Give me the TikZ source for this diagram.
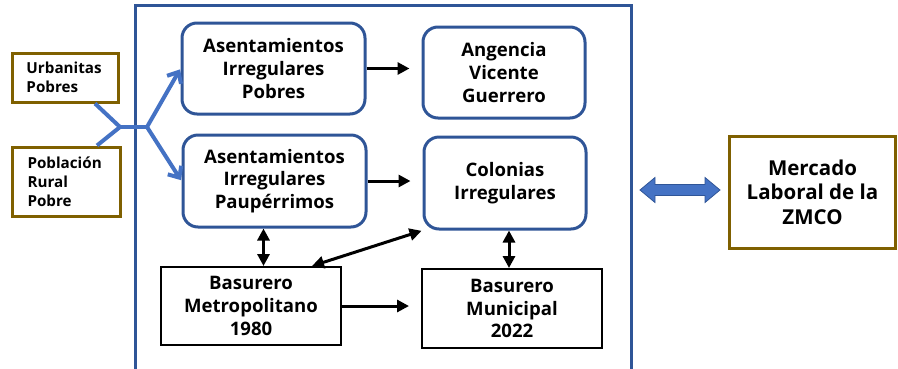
\documentclass[tikz,border=0pt]{standalone}
\usepackage{fontspec}
\setmainfont{Open Sans}
\usetikzlibrary{arrows.meta}
\definecolor{frameblue}{HTML}{2F5597}
\definecolor{arrowblue}{HTML}{4472C4}
\definecolor{brownbox}{HTML}{7F6000}
\tikzset{
  rbox/.style={draw=frameblue, line width=3pt, rounded corners=15pt, align=center,
    font=\bfseries\fontsize{18.6}{22.7}\selectfont, inner sep=0pt},
  sbox/.style={draw=black, line width=2pt, align=center,
    font=\bfseries\fontsize{18.6}{22.7}\selectfont, inner sep=0pt},
  bbox/.style={draw=brownbox, line width=3pt, align=left,
    font=\bfseries\fontsize{15.2}{18.8}\selectfont, inner sep=0pt},
  blk/.style={line width=3pt, -{Triangle[length=12pt,width=12pt]}},
  dblk/.style={line width=3pt, {Triangle[length=12pt,width=12pt]}-{Triangle[length=12pt,width=12pt]}},
  bluel/.style={arrowblue, line width=4pt},
}
\begin{document}
\begin{tikzpicture}[x=1pt,y=-1pt]
\useasboundingbox (0,0) rectangle (898,368);
\draw[frameblue, line width=3pt] (135,372) -- (135,5) -- (631,5) -- (631,372);

\node[rbox, minimum width=183pt, minimum height=91pt] (aip) at (273.5,68.5) {Asentamientos\\Irregulares\\Pobres};
\node[rbox, minimum width=162pt, minimum height=91pt] (avg) at (504,72.5) {Angencia\\Vicente\\Guerrero};
\node[rbox, minimum width=183pt, minimum height=92pt] (aipa) at (274.5,181) {Asentamientos\\Irregulares\\Paupérrimos};
\node[rbox, minimum width=162pt, minimum height=92pt] (col) at (505,183) {Colonias\\Irregulares};
\node[sbox, minimum width=180pt, minimum height=78pt] (bmet) at (251,306) {Basurero\\Metropolitano\\1980};
\node[sbox, minimum width=180pt, minimum height=79pt] (bmun) at (512,308.5) {Basurero\\Municipal\\2022};

\node[bbox, minimum width=106pt, minimum height=49pt, text width=77pt] (urb) at (65,77.5) {Urbanitas\\Pobres};
\node[bbox, minimum width=108pt, minimum height=69pt, text width=77pt] (pob) at (66,181.5) {Población\\Rural\\Pobre};
\node[draw=brownbox, line width=3pt, align=center, inner sep=0pt,
  font=\bfseries\fontsize{20.5}{24.5}\selectfont,
  minimum width=166pt, minimum height=112pt] (merc) at (812.5,192) {Mercado\\Laboral de la\\ZMCO};

% wide double arrow between the frame and the labour market
\filldraw[fill=arrowblue, draw=frameblue, line width=0.8pt]
  (640,190) -- (655,177.5) -- (655,184.5) -- (705,184.5) -- (705,177.5) -- (720,190)
  -- (705,202.5) -- (705,195.5) -- (655,195.5) -- (655,202.5) -- cycle;

% blue branching connector
\coordinate (j1) at (120,127);
\coordinate (j2) at (147,127);
\draw[bluel] ([xshift=30pt]urb.south) -- (j1);
\draw[bluel] ([xshift=31pt]pob.north) -- (j1);
\draw[bluel] (j1) -- (j2);
\draw[bluel, -{Straight Barb[length=9pt,width=16pt]}, shorten >=1pt] (j2) -- (aip.west);
\draw[bluel, -{Straight Barb[length=9pt,width=16pt]}, shorten >=1pt] (j2) -- (aipa.west);

% black arrows
\draw[blk, shorten >=12pt] (aip.east) -- (aip.east -| avg.west);
\draw[blk, shorten >=12pt] (aipa.east) -- (aipa.east -| col.west);
\draw[blk, shorten >=12pt] (bmet.east) -- (bmet.east -| bmun.west);
\draw[dblk] ([xshift=-11pt]aipa.south) -- ([xshift=-11pt]aipa.south |- bmet.north);
\draw[dblk] ([xshift=4pt]col.south) -- ([xshift=4pt]col.south |- bmun.north);
\draw[dblk, shorten >=1pt] ([xshift=61pt]bmet.north) -- (col.south west);
\end{tikzpicture}
\end{document}
